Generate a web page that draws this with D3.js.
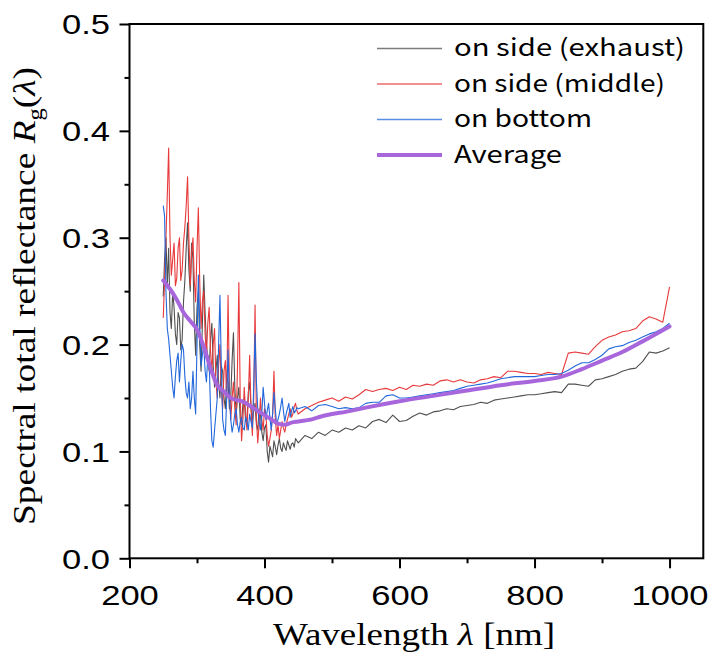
<!DOCTYPE html>
<html>
<head>
<meta charset="utf-8">
<style>
  body { margin: 0; background: #fff; }
</style>
</head>
<body>
<svg id="chart" width="713" height="662"></svg>
<script src="https://cdn.jsdelivr.net/npm/d3@7"></script>
<script>
// wavelength grid of the measured spectra [nm]: 2 nm steps in the UV, 10 nm after
let wavelength = [
    250, 252, 254, 256, 258, 260, 262, 264, 266, 268,
    270, 272, 274, 276, 278, 280, 282, 284, 286, 288,
    290, 292, 294, 296, 298, 300, 302, 304, 306, 308,
    310, 312, 314, 316, 318, 320, 322, 324, 326, 328,
    330, 332, 334, 336, 338, 340, 342, 344, 346, 348,
    350, 352, 354, 356, 358, 360, 362, 364, 366, 368,
    370, 372, 374, 376, 378, 380, 382, 384, 386, 388,
    390, 392, 394, 396, 398, 400, 402, 404, 406, 408,
    410, 412, 414, 416, 418, 420, 422, 424, 426, 428,
    430, 432, 434, 436, 438, 440, 442, 444, 446, 448,
    450, 460, 470, 480, 490, 500, 510, 520, 530, 540, 550, 560, 570, 580, 590, 600, 610, 620, 630, 640,
    650, 660, 670, 680, 690, 700, 710, 720, 730, 740, 750, 760, 770, 780, 790, 800, 810, 820, 830, 840,
    850, 860, 870, 880, 890, 900, 910, 920, 930, 940, 950, 960, 970, 980, 990, 1000]

let exhaust = [
    0.245, 0.280, 0.300, 0.255, 0.290, 0.230, 0.215, 0.250, 0.235, 0.210,
    0.200, 0.230, 0.225, 0.195, 0.205, 0.240, 0.260, 0.290, 0.314, 0.270,
    0.250, 0.295, 0.280, 0.220, 0.190, 0.235, 0.250, 0.200, 0.175, 0.220,
    0.265, 0.230, 0.200, 0.185, 0.175, 0.205, 0.220, 0.180, 0.160, 0.175,
    0.190, 0.165, 0.150, 0.180, 0.175, 0.150, 0.140, 0.170, 0.165, 0.140,
    0.150, 0.185, 0.211, 0.160, 0.135, 0.150, 0.160, 0.130, 0.125, 0.145,
    0.150, 0.128, 0.130, 0.155, 0.165, 0.140, 0.128, 0.138, 0.145, 0.125,
    0.120, 0.140, 0.135, 0.118, 0.110, 0.122, 0.125, 0.100, 0.090, 0.105,
    0.100, 0.095, 0.110, 0.104, 0.097, 0.106, 0.112, 0.103, 0.100, 0.108,
    0.104, 0.101, 0.110, 0.106, 0.102, 0.107, 0.108, 0.104, 0.112, 0.110,
    0.108, 0.115, 0.112, 0.118, 0.115, 0.120, 0.118, 0.122, 0.120, 0.124, 0.122, 0.128, 0.130, 0.127, 0.134, 0.128, 0.129, 0.133, 0.136, 0.134,
    0.137, 0.138, 0.140, 0.139, 0.142, 0.143, 0.144, 0.146, 0.145, 0.148, 0.149, 0.150, 0.151, 0.152, 0.153, 0.153, 0.154, 0.155, 0.156, 0.155,
    0.163, 0.163, 0.162, 0.161, 0.167, 0.168, 0.170, 0.172, 0.175, 0.177, 0.178, 0.184, 0.193, 0.192, 0.194, 0.197]

let middle = [
    0.225, 0.260, 0.300, 0.340, 0.384, 0.300, 0.265, 0.280, 0.295, 0.255,
    0.262, 0.290, 0.300, 0.260, 0.270, 0.295, 0.310, 0.330, 0.357, 0.300,
    0.255, 0.285, 0.300, 0.260, 0.240, 0.290, 0.328, 0.260, 0.215, 0.240,
    0.250, 0.210, 0.190, 0.220, 0.235, 0.195, 0.175, 0.200, 0.215, 0.165,
    0.150, 0.180, 0.200, 0.160, 0.140, 0.175, 0.185, 0.150, 0.246, 0.160,
    0.130, 0.150, 0.165, 0.140, 0.125, 0.180, 0.258, 0.150, 0.110, 0.130,
    0.160, 0.135, 0.120, 0.150, 0.190, 0.140, 0.115, 0.150, 0.237, 0.130,
    0.108, 0.125, 0.150, 0.130, 0.120, 0.140, 0.135, 0.115, 0.105, 0.112,
    0.120, 0.135, 0.175, 0.130, 0.115, 0.125, 0.112, 0.120, 0.128, 0.122,
    0.118, 0.125, 0.130, 0.135, 0.140, 0.132, 0.135, 0.142, 0.145, 0.138,
    0.135, 0.140, 0.143, 0.146, 0.148, 0.150, 0.147, 0.151, 0.149, 0.153, 0.158, 0.156, 0.158, 0.159, 0.157, 0.160, 0.158, 0.162, 0.161, 0.163,
    0.162, 0.166, 0.167, 0.165, 0.167, 0.165, 0.164, 0.167, 0.168, 0.170, 0.169, 0.175, 0.175, 0.174, 0.173, 0.173, 0.172, 0.174, 0.173, 0.172,
    0.192, 0.193, 0.192, 0.191, 0.198, 0.204, 0.207, 0.209, 0.212, 0.213, 0.215, 0.222, 0.226, 0.224, 0.221, 0.254]

let bottom = [
    0.330, 0.320, 0.250, 0.215, 0.205, 0.190, 0.175, 0.160, 0.150, 0.170,
    0.185, 0.192, 0.165, 0.185, 0.200, 0.195, 0.170, 0.155, 0.150, 0.165,
    0.140, 0.150, 0.175, 0.150, 0.135, 0.200, 0.265, 0.220, 0.180, 0.190,
    0.200, 0.175, 0.165, 0.190, 0.185, 0.140, 0.110, 0.104, 0.120, 0.135,
    0.150, 0.200, 0.246, 0.180, 0.130, 0.120, 0.115, 0.150, 0.195, 0.150,
    0.130, 0.118, 0.125, 0.135, 0.140, 0.125, 0.118, 0.128, 0.132, 0.122,
    0.120, 0.132, 0.128, 0.120, 0.135, 0.128, 0.122, 0.160, 0.210, 0.165,
    0.140, 0.128, 0.120, 0.135, 0.160, 0.145, 0.130, 0.138, 0.145, 0.132,
    0.120, 0.135, 0.155, 0.140, 0.125, 0.130, 0.135, 0.142, 0.150, 0.138,
    0.128, 0.135, 0.140, 0.145, 0.132, 0.138, 0.142, 0.136, 0.138, 0.141,
    0.140, 0.142, 0.138, 0.143, 0.144, 0.142, 0.140, 0.141, 0.140, 0.141, 0.145, 0.146, 0.146, 0.152, 0.153, 0.150, 0.150, 0.151, 0.152, 0.153,
    0.154, 0.155, 0.156, 0.157, 0.159, 0.161, 0.162, 0.163, 0.164, 0.166, 0.168, 0.169, 0.170, 0.170, 0.170, 0.170, 0.171, 0.172, 0.172, 0.173,
    0.176, 0.180, 0.183, 0.183, 0.186, 0.190, 0.196, 0.198, 0.199, 0.202, 0.204, 0.207, 0.210, 0.212, 0.215, 0.220]

// average curve
let avgWavelength = [250, 260, 270, 280, 290, 300, 310, 320, 330, 340, 350, 360, 370, 380, 390, 400, 410, 420, 430, 440,
    450, 460, 470, 480, 500, 520, 550, 600, 650, 700, 750, 800, 840, 870, 900, 930, 960, 1000]
let average = [0.260, 0.252, 0.242, 0.230, 0.222, 0.214, 0.198, 0.178, 0.162, 0.156, 0.150, 0.148, 0.146, 0.142, 0.138, 0.134, 0.130, 0.126, 0.125, 0.127,
    0.128, 0.129, 0.130, 0.132, 0.135, 0.137, 0.141, 0.147, 0.152, 0.157, 0.162, 0.166, 0.170, 0.177, 0.185, 0.193, 0.203, 0.217]

let xMajor = [200, 400, 600, 800, 1000]
let xMinor = [300, 500, 700, 900]
let yMajor = [0.0, 0.1, 0.2, 0.3, 0.4, 0.5]
let yMinor = [0.05, 0.15, 0.25, 0.35, 0.45]

let seriesNames = ["on side (exhaust)", "on side (middle)", "on bottom", "Average"]
let seriesColors = ["#505050", "#e8393b", "#2268dc", "#a866dc"]

let svg = d3.select("#chart")

let x = d3.scaleLinear().domain([200, 1050]).range([129.5, 703.3])
let y = d3.scaleLinear().domain([0, 0.5]).range([558.3, 24])

let stretch = 1.28

// lines
let spectra = [exhaust, middle, bottom]
let line = d3.line()
    .x((d, i) => x(wavelength[i]))
    .y(d => y(d))

let lines = svg.append("g")
spectra.forEach((s, k) => {
    lines.append("path")
        .datum(s)
        .attr("d", line)
        .attr("fill", "none")
        .attr("stroke", seriesColors[k])
        .attr("stroke-width", 1.1)
        .attr("stroke-linejoin", "round")
})

let avgLine = d3.line()
    .x((d, i) => x(avgWavelength[i]))
    .y(d => y(d))
    .curve(d3.curveMonotoneX)

lines.append("path")
    .datum(average)
    .attr("d", avgLine)
    .attr("fill", "none")
    .attr("stroke", seriesColors[3])
    .attr("stroke-width", 4)
    .attr("stroke-linecap", "round")
    .attr("stroke-linejoin", "round")

// frame
svg.append("rect")
    .attr("x", x(200))
    .attr("y", y(0.5))
    .attr("width", x(1050) - x(200))
    .attr("height", y(0) - y(0.5))
    .attr("fill", "none")
    .attr("stroke", "black")
    .attr("stroke-width", 2)

// axes
function styleAxis(g) {
    g.select(".domain").remove()
    g.selectAll(".tick line").attr("stroke", "black").attr("stroke-width", 2)
}

let xAxis = svg.append("g")
    .attr("transform", `translate(0,${y(0)})`)
    .call(d3.axisBottom(x).tickValues(xMajor).tickSize(10).tickSizeOuter(0).tickFormat(d3.format("d")))
    .call(styleAxis)
xAxis.selectAll("text")
    .attr("y", 47)
    .attr("dy", null)
    .attr("transform", `scale(${stretch},1)`)
    .style("font-family", "'Liberation Sans', Arial, sans-serif")
    .style("font-size", "27px")
    .attr("fill", "black")

svg.append("g")
    .attr("transform", `translate(0,${y(0)})`)
    .call(d3.axisBottom(x).tickValues(xMinor).tickSize(5).tickSizeOuter(0).tickFormat(""))
    .call(styleAxis)

let yAxis = svg.append("g")
    .attr("transform", `translate(${x(200)},0)`)
    .call(d3.axisLeft(y).tickValues(yMajor).tickSize(10).tickSizeOuter(0).tickFormat(d3.format(".1f")))
    .call(styleAxis)
yAxis.selectAll("text")
    .attr("x", -19.5 / stretch)
    .attr("dy", "0.36em")
    .attr("transform", `scale(${stretch},1)`)
    .style("font-family", "'Liberation Sans', Arial, sans-serif")
    .style("font-size", "27px")
    .attr("fill", "black")

svg.append("g")
    .attr("transform", `translate(${x(200)},0)`)
    .call(d3.axisLeft(y).tickValues(yMinor).tickSize(5).tickSizeOuter(0).tickFormat(""))
    .call(styleAxis)

// axis titles
let xTitle = svg.append("text")
    .attr("x", 273)
    .attr("y", 645)
    .attr("textLength", 282)
    .attr("lengthAdjust", "spacingAndGlyphs")
    .style("font-family", "'Liberation Serif', 'Times New Roman', serif")
    .style("font-size", "32px")
xTitle.append("tspan").text("Wavelength ")
xTitle.append("tspan").style("font-style", "italic").text("λ")
xTitle.append("tspan").text(" [nm]")

let yTitle = svg.append("text")
    .attr("transform", "translate(35,525) rotate(-90)")
    .attr("textLength", 458)
    .attr("lengthAdjust", "spacingAndGlyphs")
    .style("font-family", "'Liberation Serif', 'Times New Roman', serif")
    .style("font-size", "32px")
yTitle.append("tspan").text("Spectral total reflectance ")
yTitle.append("tspan").style("font-style", "italic").text("R")
yTitle.append("tspan").attr("dy", 7).style("font-size", "21px").text("g")
yTitle.append("tspan").attr("dy", -7).text("(")
yTitle.append("tspan").style("font-style", "italic").text("λ")
yTitle.append("tspan").text(")")

// legend
let legendWidths = [231, 211, 138, 108]
let legend = svg.append("g")
seriesNames.forEach((name, i) => {
    let ly = 48.5 + i * 35.5
    legend.append("line")
        .attr("x1", 377).attr("x2", 442)
        .attr("y1", ly).attr("y2", ly)
        .attr("stroke", seriesColors[i])
        .attr("stroke-opacity", i == 3 ? 1 : 0.75)
        .attr("stroke-width", i == 3 ? 4 : 1.5)
    legend.append("text")
        .attr("x", 454)
        .attr("y", ly + 7.5)
        .attr("textLength", legendWidths[i])
        .attr("lengthAdjust", "spacingAndGlyphs")
        .style("font-family", "'Noto Sans CJK JP', 'Noto Sans', sans-serif")
        .style("font-size", "24px")
        .text(name)
})
</script>
</body>
</html>
